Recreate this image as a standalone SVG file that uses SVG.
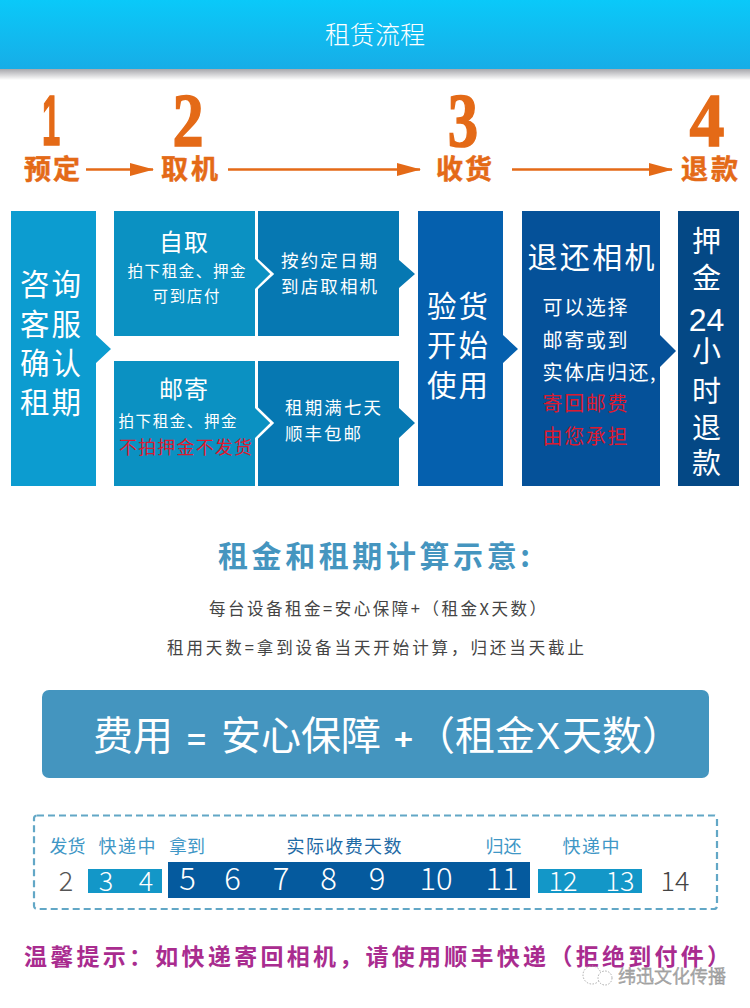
<svg xmlns="http://www.w3.org/2000/svg" width="750" height="1008" viewBox="0 0 750 1008">
<style>
text{font-family:"Noto Sans CJK SC","Liberation Sans",sans-serif}
.w{fill:#fff}
.c{text-anchor:middle}
.o{fill:#e46a17;stroke:#e46a17;stroke-width:.5;font-weight:700;font-size:27px}
.d{fill:#e46a17;stroke:#e46a17;stroke-width:1.5;font-weight:700;font-size:76px;font-family:"Liberation Serif",serif;text-anchor:middle}
.r{fill:#dc1a30}
.l{fill:#3f97c6;font-size:18px;font-weight:400}
.n{font-family:"Roboto","Liberation Sans",sans-serif;font-weight:300;text-anchor:middle}
.conn{stroke:#e46a17;stroke-width:2.6;fill:none;marker-end:url(#ah)}
</style>
<defs>
<linearGradient id="hg" x1="0" y1="0" x2="0" y2="1"><stop offset="0" stop-color="#0ac9f9"/><stop offset="1" stop-color="#17ade7"/></linearGradient>
<linearGradient id="sh" x1="0" y1="0" x2="0" y2="1"><stop offset="0" stop-color="#8a8a90" stop-opacity=".75"/><stop offset="1" stop-color="#8a8a90" stop-opacity="0"/></linearGradient>
<marker id="ah" markerUnits="userSpaceOnUse" markerWidth="24" markerHeight="14" refX="23" refY="6.5" orient="auto"><path d="M0 0L24 6.5L0 13z" fill="#e46a17"/></marker>
</defs>
<rect width="750" height="1008" fill="#fff"/>
<g id="header">
<rect x="0" y="69" width="750" height="11" fill="url(#sh)"/>
<rect width="750" height="69" fill="url(#hg)"/>
<text class="w c" x="375" y="44" font-size="25" font-weight="300">租赁流程</text>
</g>
<g id="steps">
<text class="d" x="0" y="145" transform="translate(51 0) scale(.46 1)" style="font-family:'Liberation Sans',sans-serif;font-size:71px">1</text>
<text class="d" x="0" y="146" transform="translate(188 0) scale(.82 1)">2</text>
<text class="d" x="0" y="146" transform="translate(463 0) scale(.8 1)">3</text>
<text class="d" x="0" y="146" transform="translate(707 0) scale(.92 1)">4</text>
<text class="o" x="24" y="179" textLength="56">预定</text>
<text class="o" x="161" y="179" textLength="57">取机</text>
<text class="o" x="436" y="179" textLength="56">收货</text>
<text class="o" x="681" y="179" textLength="57">退款</text>
</g>
<g id="connectors">
<path class="conn" d="M86 169.500H153"/>
<path class="conn" d="M228 169.500H420"/>
<path class="conn" d="M512 169.500H672"/>
</g>
<g id="consult">
<path d="M11 211H96V335L111 349L96 363V486H11z" fill="#0c9cd0"/>
<text class="w" x="20" y="295" font-size="29.500" textLength="61">咨询</text>
<text class="w" x="20" y="335" font-size="29.500" textLength="61">客服</text>
<text class="w" x="20" y="374" font-size="29.500" textLength="61">确认</text>
<text class="w" x="20" y="413" font-size="29.500" textLength="61">租期</text>
</g>
<g id="self-pickup">
<rect x="114" y="211" width="141" height="125" fill="#0b91c2"/>
<text class="w" x="159" y="251" font-size="24" textLength="49">自取</text>
<text class="w" x="127.500" y="277" font-size="15.500" textLength="118">拍下租金、押金</text>
<text class="w" x="152.500" y="302" font-size="15.500" textLength="67">可到店付</text>
</g>
<g id="self-pickup-detail">
<path d="M255 211H399V260L415 274L399 288V336H255V288.500L268.500 274L255 259.500z" fill="#0678b2"/>
<path d="M256.500 211V259.500L272 274L256.500 288.500V336" fill="none" stroke="#fff" stroke-width="3"/>
<path d="M255 259L270 274L255 289z" fill="#0b91c2"/>
<text class="w" x="281" y="267" font-size="17.500" textLength="96">按约定日期</text>
<text class="w" x="281" y="293" font-size="17.500" textLength="96">到店取相机</text>
</g>
<g id="mail">
<rect x="114" y="361" width="141" height="125" fill="#0b91c2"/>
<text class="w" x="159" y="398" font-size="24" textLength="49">邮寄</text>
<text class="w" x="118.500" y="427" font-size="15.500" textLength="118">拍下租金、押金</text>
<text class="r" x="119" y="454" font-size="18" textLength="133">不拍押金不发货</text>
</g>
<g id="mail-detail">
<path d="M255 361H399V408L415 423L399 438V486H255V439L268.500 423L255 407z" fill="#0678b2"/>
<path d="M256.500 361V408L272 423L256.500 438V486" fill="none" stroke="#fff" stroke-width="3"/>
<path d="M255 408L270 423L255 438z" fill="#0b91c2"/>
<text class="w" x="285" y="414" font-size="17.500" textLength="96">租期满七天</text>
<text class="w" x="285" y="440" font-size="17.500" textLength="76">顺丰包邮</text>
</g>
<g id="inspect">
<path d="M418 211H503V335L518 349L503 363V486H418z" fill="#0560ae"/>
<text class="w" x="427" y="317" font-size="29.500" textLength="61">验货</text>
<text class="w" x="427" y="356" font-size="29.500" textLength="61">开始</text>
<text class="w" x="427" y="396" font-size="29.500" textLength="61">使用</text>
</g>
<g id="return">
<path d="M522 211H660V335L676 351L660 367V486H522z" fill="#055199"/>
<text class="w" x="527.500" y="268" font-size="30" textLength="127">退还相机</text>
<text class="w" x="542.500" y="315" font-size="20" textLength="85">可以选择</text>
<text class="w" x="542.500" y="348" font-size="20" textLength="85">邮寄或到</text>
<text class="w" x="542.500" y="380" font-size="20" textLength="113">实体店归还,</text>
<text class="r" x="542.500" y="411" font-size="20" textLength="85">寄回邮费</text>
<text class="r" x="542.500" y="444" font-size="20" textLength="85">由您承担</text>
</g>
<g id="refund">
<rect x="678" y="211" width="61" height="275" fill="#044885"/>
<g class="w c" font-size="29">
<text x="706.500" y="252">押</text>
<text x="706.500" y="289">金</text>
<text x="706.500" y="331" style="font-family:'Liberation Sans',sans-serif" font-size="32">24</text>
<text x="706.500" y="362">小</text>
<text x="706.500" y="402">时</text>
<text x="706.500" y="439">退</text>
<text x="706.500" y="474">款</text>
</g>
</g>
<g id="calc-title">
<text x="218" y="567" font-size="30" font-weight="700" fill="#4595bf" textLength="312">租金和租期计算示意:</text>
<text x="209" y="615" font-size="16.500" fill="#444" textLength="337">每台设备租金=安心保障+（租金X天数）</text>
<text x="167" y="654" font-size="16.500" fill="#444" textLength="417">租用天数=拿到设备当天开始计算，归还当天截止</text>
</g>
<g id="formula">
<rect x="42" y="690" width="667" height="88" rx="7" fill="#4495bf"/>
<g class="w" font-size="40">
<text x="93" y="750" textLength="80">费用</text>
<text x="187" y="750" font-size="28" font-weight="700" textLength="19" lengthAdjust="spacingAndGlyphs">=</text>
<text x="221" y="750" textLength="160">安心保障</text>
<text x="394" y="750" font-size="28" font-weight="700" textLength="19" lengthAdjust="spacingAndGlyphs">+</text>
<text x="415" y="750" textLength="120">（租金</text>
<text x="536" y="749" style="font-family:'Liberation Sans',sans-serif" font-size="36" textLength="24" lengthAdjust="spacingAndGlyphs">X</text>
<text x="562" y="750" textLength="120">天数）</text>
</g>
</g>
<g id="timeline">
<rect x="34" y="815.500" width="683" height="93.500" rx="3" fill="none" stroke="#62a7c6" stroke-width="2.200" stroke-dasharray="7 4"/>
<rect x="88" y="869" width="74" height="24" fill="#1397c8"/>
<rect x="168" y="862" width="362" height="36" fill="#055a9e"/>
<rect x="538" y="869" width="104" height="24" fill="#1397c8"/>
<text class="l" x="49.500" y="853" textLength="36">发货</text>
<text class="l" x="98.500" y="853" textLength="57">快递中</text>
<text class="l" x="169" y="853" textLength="36">拿到</text>
<text class="l" x="286.500" y="853" textLength="115" style="fill:#1f6aa5">实际收费天数</text>
<text class="l" x="485.500" y="853" textLength="36">归还</text>
<text class="l" x="562.500" y="853" textLength="57">快递中</text>
<g class="n" font-size="27">
<text x="66" y="891" fill="#555">2</text>
<text x="106" y="891" class="w">3</text>
<text x="146" y="891" class="w">4</text>
<text x="563" y="891" class="w">12</text>
<text x="620" y="891" class="w">13</text>
<text x="675" y="891" fill="#444">14</text>
</g>
<g class="n" font-size="31" fill="#fff">
<text x="187.500" y="890">5</text>
<text x="232.500" y="890">6</text>
<text x="281" y="890">7</text>
<text x="328.500" y="890">8</text>
<text x="377" y="890">9</text>
<text x="436" y="890">10</text>
<text x="502" y="890">11</text>
</g>
</g>
<g id="tip">
<text x="24" y="965" font-size="23" font-weight="700" fill="#a92c8f" textLength="706">温馨提示：如快递寄回相机，请使用顺丰快递（拒绝到付件）</text>
</g>
<g id="watermark">
<circle cx="592" cy="975" r="9" fill="none" stroke="#aaa" stroke-width="1" stroke-dasharray="1.500 1.500"/>
<circle cx="605" cy="978" r="7" fill="#fff" stroke="#aaa" stroke-width="1" stroke-dasharray="1.500 1.500"/>
<text x="618" y="983" font-size="18" fill="#aaa" stroke="#888" stroke-width=".3" textLength="108">纬迅文化传播</text>
</g>
</svg>
